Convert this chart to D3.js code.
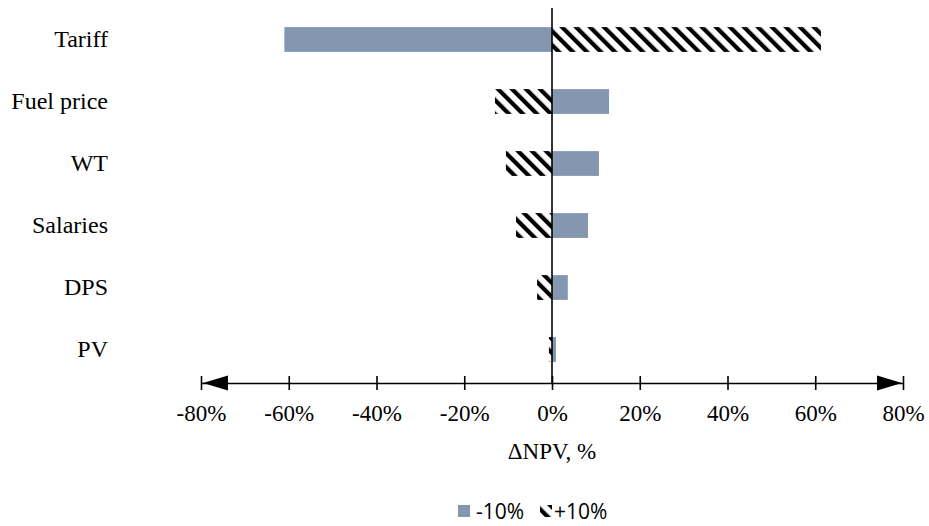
<!DOCTYPE html>
<html>
<head>
<meta charset="utf-8">
<script src="https://cdn.jsdelivr.net/npm/d3@7"></script>
<style>
  html, body { margin: 0; padding: 0; background: #fff; }
  svg { display: block; }
</style>
</head>
<body>
<svg id="chart" width="929" height="526"></svg>
<script>
const categories = ["Tariff", "Fuel price", "WT", "Salaries", "DPS", "PV"];
const minus10 = [-61.0, 13.0, 10.7, 8.2, 3.6, 0.9];
const plus10 = [61.3, -13.0, -10.5, -8.2, -3.4, -0.7];
const tickValues = [-80, -60, -40, -20, 0, 20, 40, 60, 80];
const seriesNames = ["-10%", "+10%"];
const axisTitle = "\u0394NPV, %";

const svg = d3.select("#chart");
const blue = "#8497b0";
const serif = "'Liberation Serif', 'Times New Roman', serif";

const defs = svg.append("defs");
const P = 9.9;
const pat = defs.append("pattern")
  .attr("id", "hatch")
  .attr("patternUnits", "userSpaceOnUse")
  .attr("width", P).attr("height", P)
  .attr("patternTransform", "rotate(-45)");
pat.append("rect").attr("width", P).attr("height", P).attr("fill", "#fff");
pat.append("rect").attr("x", 0).attr("y", 0).attr("width", 4.2).attr("height", P).attr("fill", "#000");

const x = d3.scaleLinear().domain([-80, 80]).range([201, 903]);
const y = d3.scaleBand().domain(categories).range([8.5, 380.5]).paddingInner(0.6).paddingOuter(0.3);
const axisY = 383;

// bars
const data = categories.map((c, i) => ({ c, m: minus10[i], p: plus10[i] }));
svg.append("g").selectAll("rect").data(data).join("rect")
  .attr("x", d => x(Math.min(0, d.m)))
  .attr("width", d => Math.abs(x(d.m) - x(0)))
  .attr("y", d => y(d.c))
  .attr("height", y.bandwidth())
  .attr("fill", blue);
svg.append("g").selectAll("rect").data(data).join("rect")
  .attr("x", d => x(Math.min(0, d.p)))
  .attr("width", d => Math.abs(x(d.p) - x(0)))
  .attr("y", d => y(d.c))
  .attr("height", y.bandwidth())
  .attr("fill", "url(#hatch)");

// zero line
svg.append("line")
  .attr("x1", x(0)).attr("x2", x(0))
  .attr("y1", 8).attr("y2", axisY)
  .attr("stroke", "#000").attr("stroke-width", 1.6);

// x axis
const xAxis = d3.axisBottom(x).tickValues(tickValues).tickFormat(d => d + "%").tickSize(7).tickSizeOuter(0);
const gx = svg.append("g").attr("transform", `translate(0,${axisY})`).call(xAxis);
gx.attr("font-family", serif).attr("font-size", 23);
gx.select(".domain").attr("stroke", "#000").attr("stroke-width", 1.6);
gx.selectAll(".tick line").attr("y1", -7).attr("y2", 7).attr("stroke", "#000").attr("stroke-width", 1.6);
gx.selectAll(".tick text")
  .attr("y", 38).attr("dy", 0)
  .style("font-family", serif).style("font-size", "23px").attr("fill", "#000");

// arrowheads
svg.append("path")
  .attr("d", `M${x(-80) + 2},${axisY} L${x(-80) + 27},${axisY - 7.5} L${x(-80) + 27},${axisY + 7.5} Z`)
  .attr("fill", "#000");
svg.append("path")
  .attr("d", `M${x(80) - 1},${axisY} L${x(80) - 26},${axisY - 7.5} L${x(80) - 26},${axisY + 7.5} Z`)
  .attr("fill", "#000");

// axis title
svg.append("text")
  .attr("x", x(0)).attr("y", 459)
  .attr("text-anchor", "middle")
  .style("font-family", serif).style("font-size", "23px")
  .text(axisTitle);

// category labels
const yAxis = d3.axisLeft(y).tickSize(0);
const gy = svg.append("g").attr("transform", "translate(108,0)").call(yAxis);
gy.attr("font-family", serif).attr("font-size", 24);
gy.select(".domain").remove();
gy.selectAll(".tick text")
  .attr("x", 0).attr("dy", "0.32em")
  .style("font-family", serif).style("font-size", "24px").attr("fill", "#000");

// legend
const leg = svg.append("g").style("font-family", "'Open Sans', 'Liberation Sans', sans-serif").style("font-size", "21px");
leg.append("rect").attr("x", 458).attr("y", 505).attr("width", 12).attr("height", 12).attr("fill", blue);
leg.append("text").attr("x", 476).attr("y", 519).text(seriesNames[0]);
leg.append("rect").attr("x", 540).attr("y", 505).attr("width", 12).attr("height", 12).attr("fill", "url(#hatch)");
leg.append("text").attr("x", 554).attr("y", 519).text(seriesNames[1]);
</script>
</body>
</html>
